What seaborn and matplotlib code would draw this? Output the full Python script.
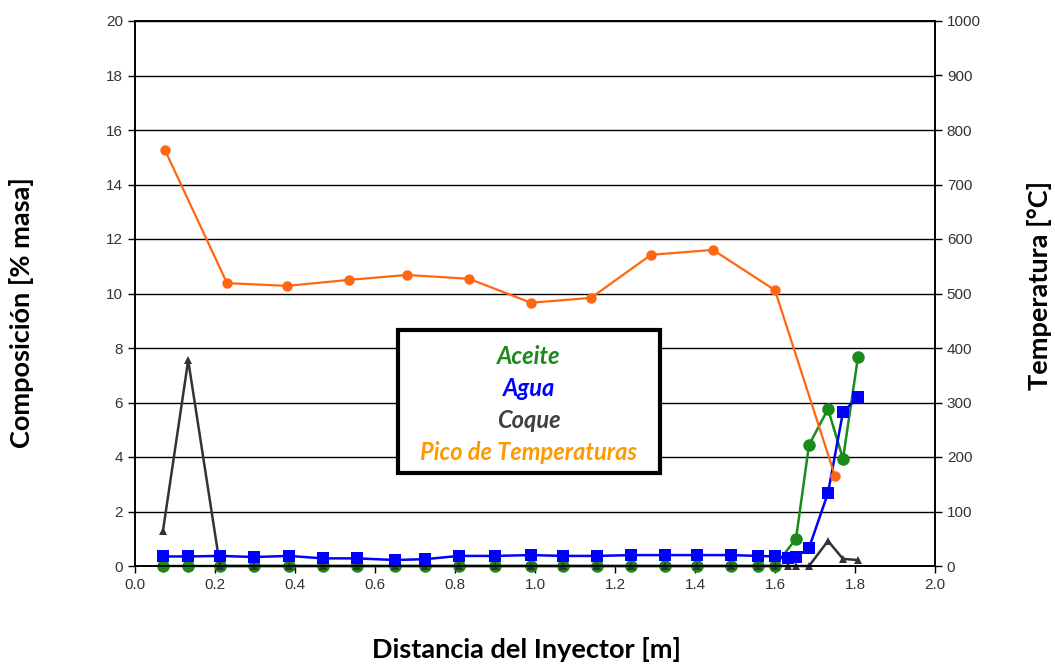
import matplotlib
matplotlib.use("Agg")
import matplotlib.pyplot as plt
import seaborn as sns
import pandas as pd
from matplotlib.patches import Rectangle

# --- data ---
dist = [0.07, 0.133, 0.2125, 0.2975, 0.385, 0.47, 0.555, 0.65, 0.725, 0.81,
        0.90, 0.99, 1.07, 1.155, 1.24, 1.325, 1.405, 1.49, 1.5575, 1.60,
        1.6325, 1.6525, 1.685, 1.7325, 1.77, 1.8075]
agua = [0.35, 0.35, 0.37, 0.33, 0.37, 0.28, 0.28, 0.22, 0.25, 0.37,
        0.37, 0.40, 0.37, 0.37, 0.40, 0.40, 0.40, 0.40, 0.37, 0.35,
        0.29, 0.33, 0.66, 2.68, 5.65, 6.20]
coque = [1.30, 7.55, 0, 0, 0, 0, 0, 0, 0, 0,
         0, 0, 0, 0, 0, 0, 0, 0, 0, 0,
         0, 0, 0, 0.92, 0.26, 0.22]
dist_aceite = [0.07, 0.133, 0.2125, 0.2975, 0.385, 0.47, 0.555, 0.65, 0.725, 0.81,
               0.90, 0.99, 1.07, 1.155, 1.24, 1.325, 1.405, 1.49, 1.5575, 1.60,
               1.6525, 1.685, 1.7325, 1.77, 1.8075]
aceite = [0, 0, 0, 0, 0, 0, 0, 0, 0, 0,
          0, 0, 0, 0, 0, 0, 0, 0, 0, 0,
          1.0, 4.44, 5.76, 3.93, 7.67]
dist_temp = [0.075, 0.23, 0.38, 0.535, 0.68, 0.835, 0.99, 1.14, 1.29, 1.445, 1.60, 1.75]
temp = [763, 519, 514, 525, 534, 527, 483, 492, 571, 580, 506, 165]

GREEN = "#1a8a1a"
BLUE = "#0000ff"
GREY = "#333333"
ORANGE = "#ff6611"

sns.set_style("white")
plt.rcParams["font.family"] = ["Liberation Sans", "DejaVu Sans"]

fig = plt.figure(figsize=(10.55, 6.64), dpi=100)
ax = fig.add_axes([135 / 1055, 1 - 566 / 664, 800 / 1055, 545 / 664])
ax2 = ax.twinx()

df_c = pd.DataFrame({"d": dist, "agua": agua, "coque": coque})
df_a = pd.DataFrame({"d": dist_aceite, "aceite": aceite})
df_t = pd.DataFrame({"d": dist_temp, "temp": temp})

sns.lineplot(data=df_a, x="d", y="aceite", ax=ax, sort=False, color=GREEN,
             marker="o", markersize=9, markeredgewidth=0, linewidth=1.8,
             zorder=2, clip_on=False)
sns.lineplot(data=df_c, x="d", y="coque", ax=ax, sort=False, color=GREY,
             marker="^", markersize=5.5, markeredgewidth=0, linewidth=1.8,
             zorder=3, clip_on=False)
sns.lineplot(data=df_c, x="d", y="agua", ax=ax, sort=False, color=BLUE,
             marker="s", markersize=8, markeredgewidth=0, linewidth=1.8,
             zorder=4, clip_on=False)
sns.lineplot(data=df_t, x="d", y="temp", ax=ax2, sort=False, color=ORANGE,
             marker="o", markersize=7.5, markeredgewidth=0, linewidth=1.6)

ax.set_xlim(0, 2.0)
ax.set_ylim(0, 20)
ax2.set_ylim(0, 1000)
ax.set_xticks([i * 0.2 for i in range(11)])
ax.set_xticklabels([f"{i * 0.2:.1f}" for i in range(11)])
ax.set_yticks(range(0, 21, 2))
ax2.set_yticks(range(0, 1001, 100))
ax.yaxis.grid(True, color="black", linewidth=1.0)
ax.set_axisbelow(True)

for a in (ax, ax2):
    for s in a.spines.values():
        s.set_color("black")
        s.set_linewidth(1.2)
    a.tick_params(axis="both", colors="black", labelcolor="#333333",
                  labelsize=11, length=5, width=1, direction="out")
ax.tick_params(left=True, bottom=True)
ax2.tick_params(right=True)

ax.set_xlabel("")
ax.set_ylabel("")
ax2.set_ylabel("")

lab = dict(fontfamily="Lato", fontweight="bold", fontsize=19.5, color="black")
fig.text(527 / 1055, 1 - 650 / 664, "Distancia del Inyector [m]", ha="center", va="center", **lab)
fig.text(22 / 1055, 1 - 313 / 664, "Composición [% masa]", ha="center", va="center", rotation=90, **lab)
fig.text(1040 / 1055, 1 - 285 / 664, "Temperatura [°C]", ha="center", va="center", rotation=90, **lab)

# legend box
fig.patches.append(Rectangle((398 / 1055, 1 - 473 / 664), 262 / 1055, 143 / 664,
                             transform=fig.transFigure, facecolor="white",
                             edgecolor="black", linewidth=3, zorder=5))
leg = dict(fontfamily="Lato", fontweight="bold", fontstyle="italic", fontsize=17,
           ha="center", va="center", zorder=6)
fig.text(529 / 1055, 1 - 356 / 664, "Aceite", color=GREEN, **leg)
fig.text(529 / 1055, 1 - 388 / 664, "Agua", color=BLUE, **leg)
fig.text(529 / 1055, 1 - 421 / 664, "Coque", color="#404040", **leg)
fig.text(529 / 1055, 1 - 453 / 664, "Pico de Temperaturas", color="#ff9900", **leg)

fig.savefig("out.png", dpi=100, facecolor="white")
